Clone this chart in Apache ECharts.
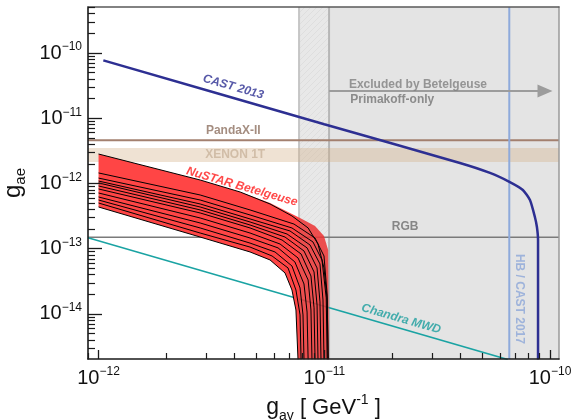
<!DOCTYPE html>
<html>
<head>
<meta charset="utf-8">
<script src="https://cdn.jsdelivr.net/npm/echarts@6/dist/echarts.min.js"></script>
<style>
html, body { margin: 0; padding: 0; background: #ffffff; }
#chart { width: 573px; height: 420px; }
</style>
</head>
<body>
<div id="chart"></div>
<script>
// ---- data -------------------------------------------------------------
// axis extents: g_agamma [GeV^-1] and g_ae
const xRange = [8.98e-13, 1.096e-10];
const yRange = [2.04e-15, 5.07e-10];
const xMajorTicks = [1e-12, 1e-11, 1e-10];
const yMajorTicks = [1e-14, 1e-13, 1e-12, 1e-11, 1e-10];
const minorMultipliers = [2, 3, 4, 5, 6, 7, 8, 9];

// CAST 2013 bound (g_agamma, g_ae)
const castBound = [
  [1.05e-12, 7.7e-11], [1.0e-11, 8.1e-12], [3.99e-11, 2.06e-12],
  [5.42e-11, 1.45e-12], [6.64e-11, 1.05e-12], [7.58e-11, 7.94e-13],
  [8.15e-11, 5.58e-13], [8.57e-11, 3.07e-13], [8.75e-11, 2.15e-13],
  [8.85e-11, 1.36e-13], [8.85e-11, 2.0e-15]
];
// constant g_ae limits
const pandaxLimit = 4.6e-12;
const xenonBand = [2.14e-12, 3.5e-12];
const rgbLimit = 1.5e-13;
// HB / CAST 2017 g_agamma limit
const hbCastLimit = 6.6e-11;
// Chandra MWD bound
const chandraBound = [[8.98e-13, 1.47e-13], [6.5e-11, 2.0e-15]];
// Betelgeuse Primakoff-only exclusion (uncertainty band, then excluded)
const betelgeuseBand = [7.73e-12, 1.05e-11];
const betelgeuseArrow = { level: 2.62e-11, from: 1.05e-11, to: 9.5e-11 };

// NuSTAR Betelgeuse band envelope
const nustarUpper = [
  [1.0e-12, 2.83e-12], [2.82e-12, 1.13e-12], [4.24e-12, 7.4e-13],
  [5.75e-12, 5.03e-13], [7.81e-12, 2.96e-13], [9.10e-12, 2.23e-13],
  [9.97e-12, 1.57e-13], [1.04e-11, 9.57e-14], [1.05e-11, 2.0e-15]
];
const nustarLower = [
  [1.0e-12, 4.36e-13], [2.82e-12, 1.51e-13], [4.69e-12, 8.92e-14],
  [5.75e-12, 6.73e-14], [6.70e-12, 4.25e-14], [7.19e-12, 2.33e-14],
  [7.49e-12, 1.15e-14], [7.65e-12, 2.0e-15]
];
// NuSTAR Betelgeuse individual model curves
const nustarCurves = [
  nustarLower,
  [[1.0e-12, 5.02e-13], [2.82e-12, 1.74e-13], [4.69e-12, 1.06e-13], [5.87e-12, 7.74e-14], [6.91e-12, 5.07e-14], [7.49e-12, 2.33e-14], [7.81e-12, 9.66e-15], [7.89e-12, 2.0e-15]],
  [[1.0e-12, 5.58e-13], [2.82e-12, 2.08e-13], [4.69e-12, 1.22e-13], [6.05e-12, 8.92e-14], [7.19e-12, 5.44e-14], [7.81e-12, 2.50e-14], [8.05e-12, 9.66e-15], [8.13e-12, 2.0e-15]],
  [[1.0e-12, 6.21e-13], [2.82e-12, 2.48e-13], [4.69e-12, 1.46e-13], [6.24e-12, 1.03e-13], [7.41e-12, 6.27e-14], [8.13e-12, 2.88e-14], [8.39e-12, 1.07e-14], [8.48e-12, 2.0e-15]],
  [[1.0e-12, 7.15e-13], [2.82e-12, 2.96e-13], [4.69e-12, 1.74e-13], [6.37e-12, 1.18e-13], [7.65e-12, 7.22e-14], [8.48e-12, 3.32e-14], [8.73e-12, 1.15e-14], [8.82e-12, 2.0e-15]],
  [[1.0e-12, 8.24e-13], [2.82e-12, 3.53e-13], [4.69e-12, 2.08e-13], [6.50e-12, 1.36e-13], [7.89e-12, 8.31e-14], [8.73e-12, 3.82e-14], [9.01e-12, 1.24e-14], [9.10e-12, 2.0e-15]],
  [[1.0e-12, 9.16e-13], [2.82e-12, 3.93e-13], [4.69e-12, 2.31e-13], [6.70e-12, 1.51e-13], [8.13e-12, 9.24e-14], [9.01e-12, 4.40e-14], [9.29e-12, 1.37e-14], [9.38e-12, 2.0e-15]],
  [[1.0e-12, 1.02e-12], [2.82e-12, 4.36e-13], [4.69e-12, 2.57e-13], [6.84e-12, 1.68e-13], [8.39e-12, 1.03e-13], [9.29e-12, 5.07e-14], [9.57e-12, 1.53e-14], [9.67e-12, 2.0e-15]],
  [[1.0e-12, 1.09e-12], [2.82e-12, 4.85e-13], [4.69e-12, 2.86e-13], [7.05e-12, 1.87e-13], [8.65e-12, 1.14e-13], [9.57e-12, 5.84e-14], [9.87e-12, 1.64e-14], [9.97e-12, 2.0e-15]],
  [[1.0e-12, 1.21e-12], [2.82e-12, 5.58e-13], [4.69e-12, 3.29e-13], [7.19e-12, 2.08e-13], [8.91e-12, 1.27e-13], [9.77e-12, 6.73e-14], [1.02e-11, 1.76e-14], [1.03e-11, 2.0e-15]],
  [[1.0e-12, 1.45e-12], [2.82e-12, 6.66e-13], [4.69e-12, 3.93e-13], [7.34e-12, 2.39e-13], [9.10e-12, 1.46e-13], [9.97e-12, 7.74e-14], [1.03e-11, 1.95e-14], [1.04e-11, 2.0e-15]],
  [[1.0e-12, 2.83e-12], [2.82e-12, 1.13e-12], [4.24e-12, 7.4e-13], [5.75e-12, 4.85e-13], [7.19e-12, 3.18e-13], [8.48e-12, 2.08e-13], [9.38e-12, 1.18e-13], [9.97e-12, 5.07e-14], [1.03e-11, 1.64e-14], [1.04e-11, 2.0e-15]]
];

// ---- drawing ----------------------------------------------------------
const L = Math.log10;
const X = [L(xRange[0]), L(xRange[1])];
const Y = [L(yRange[0]), L(yRange[1])];
const toLog = pts => pts.map(p => [L(p[0]), L(p[1])]);

function minorTicks(range) {
  const out = [];
  const lo = Math.floor(L(range[0])), hi = Math.ceil(L(range[1]));
  for (let e = lo; e < hi; e++) {
    for (const m of minorMultipliers) {
      const v = m * Math.pow(10, e);
      if (v >= range[0] && v <= range[1]) out.push(L(v));
    }
  }
  return out;
}

const FONT = '"Liberation Sans", Arial, Helvetica, sans-serif';
const powLabel = v => '{n|10}{s|\u2212' + Math.abs(Math.round(v)) + '}';
const powRich = {
  n: { fontFamily: FONT, fontSize: 20, lineHeight: 24, color: '#111' },
  s: { fontFamily: FONT, fontSize: 12, lineHeight: 13, verticalAlign: 'top', color: '#111' }
};

// hatch pattern for the uncertainty strip
const hatch = document.createElement('canvas');
hatch.width = 6; hatch.height = 6;
(function () {
  const c = hatch.getContext('2d');
  c.fillStyle = '#e8e8e8'; c.fillRect(0, 0, 6, 6);
  c.strokeStyle = '#dedede'; c.lineWidth = 1;
  c.beginPath(); c.moveTo(0, 6); c.lineTo(6, 0); c.stroke();
})();

const lineSeries = (pts, color, width, z, extra) => Object.assign({
  type: 'line', data: toLog(pts), symbol: 'none', silent: true, z: z,
  lineStyle: { color: color, width: width }, clip: true
}, extra || {});

// text annotations (anchor in data units, rotation in degrees)
const annotations = [
  { text: 'CAST 2013', at: [3.95e-12, 3.01e-11], rot: -16, color: '#2d2f92', italic: true },
  { text: 'NuSTAR Betelgeuse', at: [4.32e-12, 8.9e-13], rot: -16, color: '#ff1a1a', italic: true },
  { text: 'PandaX-II', at: [3.95e-12, 6.38e-12], rot: 0, color: '#8d7060' },
  { text: 'XENON 1T', at: [4.03e-12, 2.74e-12], rot: 0, color: '#c9b49c' },
  { text: 'RGB', at: [2.28e-11, 2.15e-13], rot: 0, color: '#6e6e6e' },
  { text: 'Chandra MWD', at: [2.19e-11, 8.38e-15], rot: -16, color: '#1a9e9e', italic: true },
  { text: 'HB / CAST 2017', at: [7.29e-11, 1.70e-14], rot: -90, color: '#8ca6d8' },
  { text: 'Excluded by Betelgeuse', at: [2.60e-11, 3.24e-11], rot: 0, color: '#808080' },
  { text: 'Primakoff-only', at: [2.0e-11, 1.91e-11], rot: 0, color: '#747474' }
];

const series = [];

// excluded region: hatched strip + grey area
series.push({
  type: 'custom', silent: true, z: 1, data: [0],
  renderItem: function (params, api) {
    const a = api.coord([L(betelgeuseBand[0]), Y[1]]);
    const b = api.coord([L(betelgeuseBand[1]), Y[0]]);
    const c = api.coord([X[1], Y[0]]);
    return { type: 'group', children: [
      { type: 'rect', shape: { x: a[0], y: a[1], width: b[0] - a[0], height: b[1] - a[1] },
        style: { fill: { image: hatch, repeat: 'repeat' } } },
      { type: 'rect', shape: { x: b[0], y: a[1], width: c[0] - b[0], height: b[1] - a[1] },
        style: { fill: '#e4e4e4' } },
      { type: 'line', shape: { x1: a[0], y1: a[1], x2: a[0], y2: b[1] },
        style: { stroke: '#c6c6c6', lineWidth: 2 } },
      { type: 'line', shape: { x1: b[0], y1: a[1], x2: b[0], y2: b[1] },
        style: { stroke: '#b6b6b6', lineWidth: 2 } }
    ] };
  }
});

// XENON 1T band
series.push({
  type: 'custom', silent: true, z: 2, data: [0],
  renderItem: function (params, api) {
    const a = api.coord([X[0], L(xenonBand[1])]);
    const b = api.coord([X[1], L(xenonBand[0])]);
    return { type: 'rect', shape: { x: a[0], y: a[1], width: b[0] - a[0], height: b[1] - a[1] },
      style: { fill: 'rgba(210,176,134,0.36)' } };
  }
});

// horizontal / vertical limits and Chandra bound (under the NuSTAR band)
series.push(lineSeries([[xRange[0], pandaxLimit], [xRange[1], pandaxLimit]], '#a3806f', 1.8, 3));
series.push(lineSeries([[xRange[0], rgbLimit], [xRange[1], rgbLimit]], '#7a7a7a', 1.5, 3));
series.push(lineSeries(chandraBound, '#1aa3a3', 1.5, 3));
series.push(lineSeries([[hbCastLimit, yRange[0]], [hbCastLimit, yRange[1]]], '#8eaadb', 2, 3));

// NuSTAR band fill: opaque left of the exclusion edge, slightly translucent inside the strip
series.push({
  type: 'custom', silent: true, z: 4, data: [0], clip: true,
  renderItem: function (params, api) {
    const pts = nustarUpper.concat(nustarLower.slice().reverse())
      .map(p => api.coord([L(p[0]), L(p[1])]));
    const cs = params.coordSys;
    const xb = api.coord([L(betelgeuseBand[0]), Y[0]])[0];
    return { type: 'group', children: [
      { type: 'polygon', shape: { points: pts }, style: { fill: '#ff4545' },
        clipPath: { type: 'rect', shape: { x: cs.x, y: cs.y, width: xb - cs.x, height: cs.height } } },
      { type: 'polygon', shape: { points: pts }, style: { fill: 'rgba(236,52,52,0.86)' },
        clipPath: { type: 'rect', shape: { x: xb, y: cs.y, width: cs.x + cs.width - xb, height: cs.height } } }
    ] };
  }
});

nustarCurves.forEach(c => series.push(lineSeries(c, '#000000', 1, 5)));

// CAST 2013
series.push(lineSeries(castBound, '#2d2f92', 2.5, 6, { smooth: 0.2 }));

// arrow for the excluded region
series.push({
  type: 'line', data: [], silent: true, z: 6,
  markLine: {
    silent: true, animation: false, symbol: ['none', 'triangle'], symbolSize: [13, 15],
    label: { show: false },
    lineStyle: { color: '#9c9c9c', width: 2, type: 'solid' },
    data: [[
      { coord: [L(betelgeuseArrow.from), L(betelgeuseArrow.level)] },
      { coord: [L(betelgeuseArrow.to), L(betelgeuseArrow.level)] }
    ]]
  }
});

// annotation texts
series.push({
  type: 'scatter', silent: true, z: 10, symbolSize: 0,
  data: annotations.map(a => ({
    value: [L(a.at[0]), L(a.at[1])],
    label: {
      show: true, position: 'inside', formatter: a.text, rotate: a.rot,
      color: a.color, fontFamily: FONT, fontSize: 12, fontWeight: 'bold',
      fontStyle: a.italic ? 'italic' : 'normal'
    }
  }))
});

const majorX = xMajorTicks.map(L), majorY = yMajorTicks.map(L);

const chart = echarts.init(document.getElementById('chart'), null, { renderer: 'canvas' });
chart.setOption({
  animation: false,
  backgroundColor: '#ffffff',
  grid: { left: 88, right: 14, top: 7, bottom: 61, containLabel: false, outerBoundsMode: 'none' },
  xAxis: [
    {
      type: 'value', min: X[0], max: X[1], position: 'bottom', z: 20,
      axisLine: { show: true, onZero: false, lineStyle: { color: '#1a1a1a', width: 1.6 } },
      axisTick: { show: true, inside: true, length: 9, customValues: majorX, lineStyle: { color: '#1a1a1a', width: 1.3 } },
      axisLabel: { customValues: majorX, formatter: powLabel, rich: powRich, margin: 7 },
      splitLine: { show: false },
      name: '{g|g}{sub|a\u03b3}{t| [ GeV}{sup|-1}{t| ]}',
      nameLocation: 'middle', nameGap: 26,
      nameTextStyle: { rich: {
        g: { fontFamily: FONT, fontSize: 23, lineHeight: 30, color: '#111' },
        sub: { fontFamily: FONT, fontSize: 14, lineHeight: 10, verticalAlign: 'bottom', color: '#111' },
        t: { fontFamily: FONT, fontSize: 22, lineHeight: 30, color: '#111' },
        sup: { fontFamily: FONT, fontSize: 14, lineHeight: 24, verticalAlign: 'top', color: '#111' }
      } }
    },
    {
      type: 'value', min: X[0], max: X[1], position: 'bottom', z: 20,
      axisLine: { show: false },
      axisTick: { show: true, inside: true, length: 6, customValues: minorTicks(xRange), lineStyle: { color: '#1a1a1a', width: 1.2 } },
      axisLabel: { show: false }, splitLine: { show: false }
    },
    {
      type: 'value', min: X[0], max: X[1], position: 'top', z: 20,
      axisLine: { show: true, onZero: false, lineStyle: { color: '#5a5a5a', width: 1.5 } },
      axisTick: { show: false }, axisLabel: { show: false }, splitLine: { show: false }
    }
  ],
  yAxis: [
    {
      type: 'value', min: Y[0], max: Y[1], position: 'left', z: 20,
      axisLine: { show: true, onZero: false, lineStyle: { color: '#1a1a1a', width: 1.6 } },
      axisTick: { show: true, inside: true, length: 14, customValues: majorY, lineStyle: { color: '#1a1a1a', width: 1.3 } },
      axisLabel: { customValues: majorY, formatter: powLabel, rich: powRich, margin: 6 },
      splitLine: { show: false },
      name: '{g|g}{sub|ae}',
      nameLocation: 'middle', nameGap: 48,
      nameTextStyle: { rich: {
        g: { fontFamily: FONT, fontSize: 24, lineHeight: 30, color: '#111' },
        sub: { fontFamily: FONT, fontSize: 15, lineHeight: 11, verticalAlign: 'bottom', color: '#111' }
      } }
    },
    {
      type: 'value', min: Y[0], max: Y[1], position: 'left', z: 20,
      axisLine: { show: false },
      axisTick: { show: true, inside: true, length: 7, customValues: minorTicks(yRange), lineStyle: { color: '#1a1a1a', width: 1.2 } },
      axisLabel: { show: false }, splitLine: { show: false }
    },
    {
      type: 'value', min: Y[0], max: Y[1], position: 'right', z: 20,
      axisLine: { show: true, onZero: false, lineStyle: { color: '#9a9a9a', width: 1.5 } },
      axisTick: { show: false }, axisLabel: { show: false }, splitLine: { show: false }
    }
  ],
  series: series
});
</script>
</body>
</html>
